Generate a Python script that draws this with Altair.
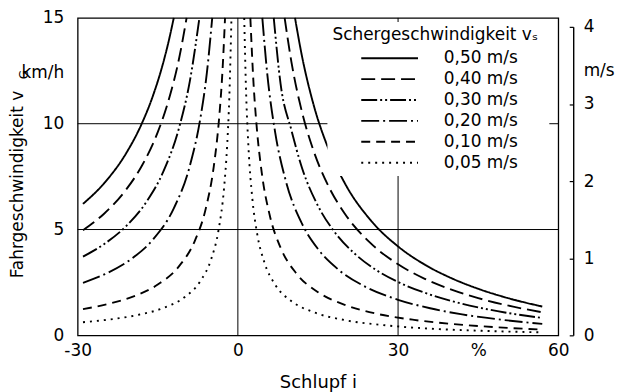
import altair as alt
import pandas as pd

FONT = "DejaVu Sans"

# Shear velocity series (legend labels) and their line dash patterns
SERIES = ["0,50 m/s", "0,40 m/s", "0,30 m/s", "0,20 m/s", "0,10 m/s", "0,05 m/s"]
DASHES = [[1, 0], [14, 6], [16, 3, 2, 3, 2, 3], [18, 4, 2, 4], [9, 6], [2, 5]]

# Slip i (%) and driving speed v_G (km/h) (both branches)
SLIP_050 = [-29, -25, -21, -18, -16, -14, -13, -12,
            10.7, 12, 14, 17, 20, 25, 30, 35, 40, 45, 50, 57]
SPEED_050 = [6.21, 7.2, 8.57, 10.0, 11.25, 12.86, 13.85, 15.0,
             15.0, 13.2, 11.06, 8.79, 7.2, 5.4, 4.2, 3.34, 2.7, 2.2, 1.8, 1.36]

SLIP_040 = [-29, -25, -21, -18, -15, -13, -11, -9.6,
            8.76, 10, 12, 14, 17, 20, 25, 30, 35, 40, 45, 50, 57]
SPEED_040 = [4.97, 5.76, 6.86, 8.0, 9.6, 11.08, 13.09, 15.0,
             15.0, 12.96, 10.56, 8.85, 7.03, 5.76, 4.32, 3.36, 2.67, 2.16, 1.76, 1.44, 1.09]

SLIP_030 = [-29, -25, -21, -17, -14, -11, -9, -7.2,
            6.72, 8, 10, 12, 15, 18, 22, 26, 30, 35, 40, 45, 50, 57]
SPEED_030 = [3.72, 4.32, 5.14, 6.35, 7.71, 9.82, 12.0, 15.0,
             15.0, 11.88, 9.72, 7.92, 6.12, 4.92, 3.83, 3.07, 2.52, 2.01, 1.62, 1.32, 1.08, 0.82]

SLIP_020 = [-29, -25, -20, -16, -12, -9, -7, -5.8, -4.8,
            4.58, 5.5, 7, 9, 12, 15, 19, 24, 30, 36, 42, 50, 57]
SPEED_020 = [2.48, 2.88, 3.6, 4.5, 6.0, 8.0, 10.29, 12.41, 15.0,
             15.0, 12.37, 9.57, 7.28, 5.28, 4.08, 3.07, 2.28, 1.68, 1.28, 0.99, 0.72, 0.54]

SLIP_010 = [-29, -24, -19, -15, -11, -8, -6, -4.5, -3.5, -2.9, -2.4,
            2.34, 2.9, 3.5, 4.5, 6, 8, 11, 15, 20, 26, 33, 40, 48, 57]
SPEED_010 = [1.24, 1.5, 1.89, 2.4, 3.27, 4.5, 6.0, 8.0, 10.29, 12.41, 15.0,
             15.0, 12.05, 9.93, 7.64, 5.64, 4.14, 2.91, 2.04, 1.44, 1.02, 0.73, 0.54, 0.39, 0.27]

SLIP_005 = [-29, -24, -19, -14, -10, -7, -5, -3.6, -2.6, -2.0, -1.6, -1.2,
            1.19, 1.5, 2, 2.7, 3.6, 5, 7, 10, 14, 20, 27, 35, 45, 57]
SPEED_005 = [0.62, 0.75, 0.95, 1.29, 1.8, 2.57, 3.6, 5.0, 6.92, 9.0, 11.25, 15.0,
             15.0, 11.82, 8.82, 6.49, 4.82, 3.42, 2.39, 1.62, 1.11, 0.72, 0.49, 0.33, 0.22, 0.14]

SLIPS = [SLIP_050, SLIP_040, SLIP_030, SLIP_020, SLIP_010, SLIP_005]
SPEEDS = [SPEED_050, SPEED_040, SPEED_030, SPEED_020, SPEED_010, SPEED_005]

# Axes
X_TICKS = [-30, 0, 30, 45, 60]          # 45 carries the "%" unit label
Y_TICKS = [0, 5, 10, 12.4, 15]          # 12.4 carries the "km/h" unit label
MS_TICKS = [0, 1, 2, 3, 3.43, 4]        # 3.43 carries the "m/s" unit label
GRID_X = [0, 30]
GRID_Y = [5, 10]

W, H = 483, 319

rows = []
for label, slips, speeds in zip(SERIES, SLIPS, SPEEDS):
    for s, v in zip(slips, speeds):
        rows.append({"vs": label, "slip": s, "speed": v,
                     "branch": "links" if s < 0 else "rechts"})
df = pd.DataFrame(rows)

x_scale = alt.Scale(domain=[-30, 60], nice=False, zero=False)
y_scale = alt.Scale(domain=[0, 15], nice=False)

x_axis = alt.Axis(values=X_TICKS, ticks=False, domain=False, grid=False,
                  labelExpr="datum.value == 45 ? '%' : replace(datum.label, '\u2212', '-')",
                  labelFlush=False, labelOverlap=False, labelPadding=7,
                  title="Schlupf i", titlePadding=15, titleFontSize=18)
y_axis = alt.Axis(values=Y_TICKS, ticks=False, domain=False, grid=False,
                  labelExpr="datum.value == 12.4 ? 'km/h' : datum.label",
                  labelFlush=False, labelOverlap=False, labelPadding=14,
                  title="Fahrgeschwindigkeit  v", titleFontSize=17,
                  titleAngle=270, titleAlign="center",
                  titleBaseline="alphabetic", titleX=-55, titleY=167)

X = alt.X("slip:Q", scale=x_scale, axis=x_axis)
Y = alt.Y("speed:Q", scale=y_scale, axis=y_axis)

grid_x = alt.Chart(pd.DataFrame({"slip": GRID_X})).mark_rule(
    color="black", strokeWidth=1).encode(x=X)

grid_y = alt.Chart(pd.DataFrame({"speed": GRID_Y})).mark_rule(
    color="black", strokeWidth=1).encode(y=Y)

lines = alt.Chart(df).mark_line(
    color="black", strokeWidth=1.9, interpolate="monotone", strokeCap="butt"
).encode(
    x=X,
    y=Y,
    strokeDash=alt.StrokeDash(
        "vs:N", sort=SERIES,
        scale=alt.Scale(domain=SERIES, range=DASHES),
        legend=alt.Legend(
            orient="none", legendX=251, legendY=4,
            title="Schergeschwindigkeit  vₛ", titleFontSize=17, titleLimit=0,
            titleFontWeight="normal", titleColor="black", titleFont=FONT,
            titlePadding=6,
            labelFontSize=17, labelColor="black", labelFont=FONT, labelLimit=0,
            symbolType="M-5,0H5", symbolSize=130, symbolStrokeWidth=1.9,
            symbolStrokeColor="black", symbolOffset=49, labelOffset=46,
            rowPadding=3, fillColor="white", padding=5)),
    detail="branch:N",
)

sub_g = alt.Chart(pd.DataFrame({"t": ["G"]})).mark_text(
    angle=270, fontSize=12, font=FONT, color="black").encode(
    x=alt.value(-54), y=alt.value(57), text="t:N")

kmh = alt.layer(grid_x, grid_y, lines, sub_g)

ms_layer = alt.Chart(pd.DataFrame({"ms": [0, 4]})).mark_point(opacity=0).encode(
    y=alt.Y("ms:Q", scale=alt.Scale(domain=[0, 4], range=[H, 9], nice=False),
            axis=alt.Axis(orient="left", offset=-(W + 15), values=MS_TICKS,
                          tickSize=4, tickWidth=1.2, tickColor="black",
                          tickOpacity={"condition": {"test": "datum.value == 3.43", "value": 0}, "value": 1},
                          domain=True, domainColor="black", domainWidth=1.4,
                          grid=False, labelAlign="left", labelPadding=-14,
                          labelOverlap=False,
                          labelExpr="datum.value == 3.43 ? 'm/s' : '' + datum.value",
                          labelFlush=False, title=None))
)

chart = alt.layer(kmh, ms_layer).resolve_scale(y="independent").properties(
    width=W, height=H, padding={"left": 1, "top": 0, "right": 0, "bottom": 0}
).configure_view(
    stroke="black", strokeWidth=1.3
).configure_axis(
    labelFont=FONT, titleFont=FONT, labelFontSize=17, labelColor="black",
    titleColor="black", titleFontWeight="normal"
)

chart.save("out.html", embed_options={"renderer": "svg", "actions": False})
